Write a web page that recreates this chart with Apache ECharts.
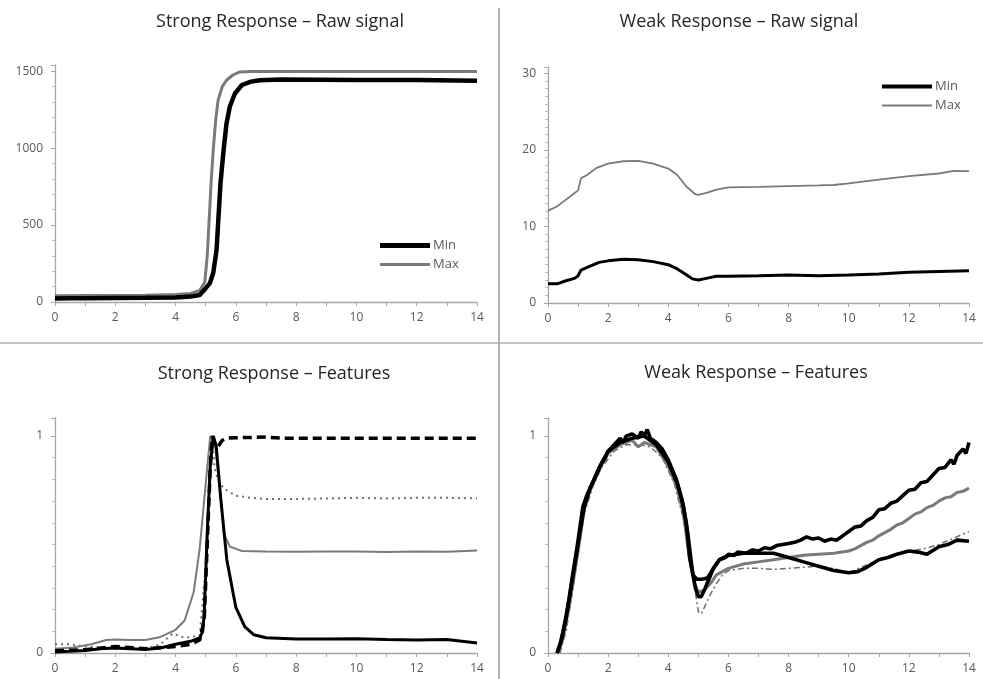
<!DOCTYPE html>
<html lang="en">
<head>
  <meta charset="UTF-8">
  <title>Strong / Weak Response</title>
</head>
<body style="margin:0; background-color:#ffffff;">
<div id="main" style="width:983px; height:679px;"></div>

<script src="https://cdn.jsdelivr.net/npm/echarts@6/dist/echarts.min.js"></script>

<script>
  // panel titles
  var titles = [
    'Strong Response – Raw signal',
    'Weak Response – Raw signal',
    'Strong Response – Features',
    'Weak Response – Features'
  ];
  var xTicks = [0, 2, 4, 6, 8, 10, 12, 14];

  // strong response, raw signal [time, value]
  var strongRawMin = [[0,22],[0.5,24],[1,25],[2,26],[3,27],[4,30],[4.5,35],[4.8,45],[5.0,90],[5.14,123],[5.25,190],
    [5.36,339],[5.49,771],[5.6,1000],[5.69,1160],[5.8,1270],[5.97,1355],[6.2,1410],[6.5,1432],[6.8,1441],
    [7.5,1445],[10,1443],[12,1442],[14,1438]];
  var strongRawMax = [[0,40],[1,42],[2,43],[3,44],[4,48],[4.5,55],[4.8,75],[4.97,130],[5.05,300],[5.12,555],
    [5.18,780],[5.25,988],[5.33,1180],[5.41,1312],[5.55,1400],[5.69,1441],[5.9,1475],[6.13,1495],[6.5,1498],
    [10,1498],[14,1498]];

  // weak response, raw signal
  var weakRawMin = [[0,2.5],[0.3,2.5],[0.6,2.9],[0.9,3.25],[1.0,3.55],[1.1,4.3],[1.4,4.8],[1.7,5.3],[2.0,5.5],
    [2.5,5.7],[3.0,5.65],[3.5,5.4],[4.0,5.0],[4.3,4.45],[4.6,3.7],[4.8,3.15],[5.0,3.0],[5.3,3.25],[5.6,3.5],
    [6,3.5],[7,3.55],[8,3.65],[9,3.55],[10,3.65],[11,3.8],[12,4.0],[13,4.1],[14,4.2]];
  var weakRawMax = [[0,12.05],[0.3,12.6],[0.5,13.2],[0.8,14.1],[1.0,14.7],[1.1,16.3],[1.3,16.7],[1.6,17.6],
    [2.0,18.2],[2.5,18.5],[3.0,18.55],[3.5,18.2],[4.0,17.55],[4.3,16.7],[4.6,15.2],[4.9,14.2],[5.0,14.1],
    [5.3,14.4],[5.6,14.8],[6.0,15.1],[7,15.15],[8,15.26],[9,15.35],[9.5,15.4],[10,15.6],[11,16.1],[12,16.55],
    [13,16.9],[13.5,17.25],[14,17.2]];

  // strong response, features
  var strongFeatBlack = [[0,0.005],[0.5,0.008],[1,0.012],[1.5,0.02],[2,0.023],[2.5,0.02],[3,0.016],[3.5,0.023],
    [4,0.04],[4.5,0.054],[4.8,0.07],[4.9,0.1],[4.95,0.18],[5.05,0.55],[5.15,0.86],[5.25,1.0],[5.35,0.95],
    [5.5,0.71],[5.7,0.43],[6.0,0.21],[6.3,0.12],[6.6,0.084],[7,0.07],[8,0.065],[9,0.064],[10,0.066],[11,0.062],
    [12,0.06],[13,0.062],[14,0.046]];
  var strongFeatDashed = [[0,0.01],[1,0.015],[2,0.03],[3,0.02],[4,0.03],[4.5,0.04],[4.8,0.06],[4.95,0.15],
    [5.05,0.5],[5.15,0.85],[5.22,1.0],[5.3,0.97],[5.4,0.95],[5.55,0.98],[5.7,0.99],[6,0.992],[7,0.995],
    [7.5,0.99],[8,0.99],[10,0.99],[12,0.99],[14,0.99]];
  var strongFeatGray = [[0,0.02],[0.6,0.025],[1.2,0.04],[1.7,0.06],[2,0.062],[2.5,0.06],[3,0.06],[3.5,0.074],
    [4.0,0.107],[4.3,0.15],[4.6,0.28],[4.8,0.48],[5.0,0.78],[5.15,1.0],[5.3,0.97],[5.45,0.78],[5.6,0.55],
    [5.8,0.49],[6.2,0.47],[7,0.468],[8,0.467],[9,0.468],[10,0.468],[11,0.466],[12,0.468],[13,0.467],[14,0.472]];
  var strongFeatDotted = [[0,0.04],[0.5,0.04],[1,0.03],[1.5,0.025],[2,0.02],[2.5,0.018],[3,0.02],[3.5,0.04],
    [3.9,0.09],[4.3,0.07],[4.8,0.08],[5.0,0.4],[5.1,0.75],[5.2,1.0],[5.3,0.85],[5.45,0.78],[5.7,0.75],
    [6.0,0.725],[6.5,0.715],[7,0.71],[8,0.71],[9,0.712],[10,0.715],[11,0.712],[12,0.715],[13,0.715],[14,0.713]];

  // weak response, features (noisy traces, read at short steps)
  var weakFeatA = [[0.3,0],[0.4,0.04],[0.5,0.1],[0.6,0.17],[0.7,0.25],[0.83,0.37],[0.9,0.43],[1.0,0.52],
    [1.16,0.675],[1.3,0.73],[1.5,0.79],[1.72,0.86],[1.9,0.9],[2.0,0.93],[2.2,0.96],[2.4,0.99],[2.5,0.97],
    [2.6,1.0],[2.8,1.01],[3.0,0.99],[3.1,1.02],[3.2,1.0],[3.3,1.03],[3.4,0.99],[3.6,0.97],[3.8,0.94],
    [4.0,0.89],[4.27,0.8],[4.45,0.71],[4.6,0.6],[4.71,0.44],[4.82,0.36],[4.95,0.34],[5.1,0.34],[5.3,0.345],
    [5.5,0.39],[5.7,0.43],[5.9,0.44],[6.0,0.455],[6.2,0.45],[6.3,0.465],[6.6,0.46],[6.8,0.475],[7.0,0.47],
    [7.2,0.485],[7.4,0.48],[7.6,0.495],[7.8,0.5],[8.0,0.505],[8.2,0.51],[8.4,0.52],[8.6,0.535],[8.8,0.525],
    [9.0,0.53],[9.2,0.515],[9.4,0.525],[9.6,0.52],[9.7,0.53],[9.9,0.55],[10.0,0.56],[10.2,0.58],[10.4,0.585],
    [10.6,0.61],[10.8,0.625],[11.0,0.66],[11.2,0.665],[11.4,0.69],[11.6,0.7],[11.8,0.725],[12.0,0.75],
    [12.2,0.755],[12.4,0.785],[12.6,0.79],[12.8,0.82],[13.0,0.85],[13.2,0.855],[13.4,0.89],[13.5,0.87],
    [13.6,0.91],[13.8,0.94],[13.9,0.92],[14.0,0.97]];
  var weakFeatB = [[0.35,0],[0.5,0.07],[0.7,0.21],[0.9,0.38],[1.0,0.47],[1.2,0.66],[1.4,0.75],[1.6,0.81],
    [1.8,0.87],[2.0,0.92],[2.4,0.96],[2.8,0.98],[3.0,0.95],[3.2,0.97],[3.6,0.95],[4.0,0.86],[4.3,0.76],
    [4.5,0.64],[4.7,0.44],[4.85,0.33],[5.0,0.28],[5.2,0.29],[5.4,0.32],[5.6,0.36],[6.0,0.39],[6.5,0.41],
    [7,0.42],[7.5,0.43],[8,0.44],[8.5,0.45],[9,0.455],[9.5,0.46],[10,0.47],[10.2,0.48],[10.4,0.495],
    [10.6,0.51],[10.8,0.52],[11,0.54],[11.2,0.555],[11.4,0.57],[11.6,0.59],[11.8,0.6],[12,0.62],[12.2,0.64],
    [12.4,0.65],[12.6,0.67],[12.8,0.68],[13,0.7],[13.2,0.715],[13.4,0.72],[13.6,0.74],[13.8,0.745],[14,0.76]];
  var weakFeatC = [[0.3,0],[0.45,0.06],[0.6,0.16],[0.8,0.33],[1.0,0.5],[1.2,0.67],[1.4,0.76],[1.6,0.82],
    [1.8,0.88],[2.0,0.93],[2.4,0.97],[2.8,0.99],[3.2,1.0],[3.6,0.96],[4.0,0.88],[4.3,0.78],[4.5,0.68],
    [4.65,0.55],[4.8,0.38],[4.9,0.3],[5.0,0.26],[5.1,0.26],[5.2,0.29],[5.35,0.34],[5.5,0.39],[5.7,0.43],
    [6.0,0.45],[6.5,0.46],[7.0,0.46],[7.5,0.46],[8.0,0.44],[8.5,0.42],[9.0,0.4],[9.5,0.38],[10,0.37],
    [10.3,0.375],[10.6,0.395],[11,0.43],[11.3,0.44],[11.6,0.455],[12,0.47],[12.3,0.465],[12.6,0.455],
    [13,0.49],[13.3,0.5],[13.6,0.52],[14,0.515]];
  var weakFeatD = [[0.4,0],[0.6,0.1],[0.8,0.27],[1.0,0.45],[1.2,0.64],[1.5,0.77],[1.8,0.86],[2.2,0.93],
    [2.6,0.96],[3.0,0.96],[3.4,0.95],[3.8,0.9],[4.2,0.78],[4.5,0.62],[4.7,0.47],[4.8,0.38],[4.9,0.28],
    [5.0,0.19],[5.1,0.18],[5.2,0.21],[5.4,0.27],[5.6,0.32],[5.8,0.36],[6.0,0.38],[6.5,0.39],[7,0.39],
    [7.5,0.385],[8,0.39],[8.5,0.395],[9,0.4],[9.5,0.39],[10,0.37],[10.5,0.4],[11,0.43],[11.5,0.45],
    [12,0.47],[12.5,0.48],[13,0.5],[13.5,0.53],[14,0.56]];

  var chartDom = document.getElementById('main');
  var myChart = echarts.init(chartDom, null, { renderer: 'canvas' });

  var FONT = '"Open Sans", "Noto Sans", sans-serif';
  var AXIS_GRAY = '#a6a6a6';
  var LABEL_COLOR = '#595959';

  function xAxis(gridIndex) {
    return {
      type: 'value', gridIndex: gridIndex, min: 0, max: 14, interval: 2,
      axisLine: { lineStyle: { color: AXIS_GRAY, width: 1.3 } },
      axisTick: { length: 4, lineStyle: { color: AXIS_GRAY } },
      minorTick: { show: true, splitNumber: 2, length: 4, lineStyle: { color: AXIS_GRAY } },
      splitLine: { show: false },
      axisLabel: {
        color: LABEL_COLOR, fontFamily: FONT, fontSize: 12, margin: 10,
        formatter: function (v) { return xTicks.indexOf(v) >= 0 ? String(v) : ''; }
      }
    };
  }

  function yAxis(gridIndex, max, interval, minor, labels) {
    return {
      type: 'value', gridIndex: gridIndex, min: 0, max: max, interval: interval,
      axisLine: { show: true, lineStyle: { color: AXIS_GRAY, width: 1.3 } },
      axisTick: { show: true, length: 4, lineStyle: { color: AXIS_GRAY } },
      minorTick: { show: true, splitNumber: minor, length: 3, lineStyle: { color: '#bdbdbd' } },
      splitLine: { show: false },
      axisLabel: {
        color: LABEL_COLOR, fontFamily: FONT, fontSize: 12, margin: 12, showMaxLabel: false,
        formatter: function (v) { return labels.indexOf(v) >= 0 ? String(v) : ''; }
      }
    };
  }

  function line(name, data, xi, color, width, type) {
    return {
      name: name, type: 'line', xAxisIndex: xi, yAxisIndex: xi,
      data: data, symbol: 'none', smooth: false, silent: true,
      lineStyle: { color: color, width: width, type: type || 'solid' },
      itemStyle: { color: color }
    };
  }

  // one legend per entry so each key can carry its own stroke thickness
  function legendItem(name, label, left, top, thick) {
    return {
      data: [{ name: name, icon: 'rect' }], left: left, top: top, orient: 'vertical',
      itemWidth: 50, itemHeight: thick, selectedMode: false, padding: 0, itemGap: 0,
      textStyle: { color: LABEL_COLOR, fontFamily: FONT, fontSize: 13, padding: [0, 0, 0, -2] },
      formatter: function () { return label; }
    };
  }

  var grids = [
    { left: 55, right: 506, top: 65, height: 237 },
    { left: 548, right: 14, top: 67, height: 236 },
    { left: 55, right: 506, top: 418, height: 235 },
    { left: 548, right: 14, top: 418, height: 235 }
  ];
  grids.forEach(function (g) { g.containLabel = false; g.outerBoundsMode = 'none'; });

  var option = {
    backgroundColor: '#ffffff',
    animation: false,
    grid: grids,
    xAxis: [xAxis(0), xAxis(1), xAxis(2), xAxis(3)],
    yAxis: [
      yAxis(0, 1540, 500, 5, [0, 500, 1000, 1500]),
      yAxis(1, 30.8, 10, 10, [0, 10, 20, 30]),
      yAxis(2, 1.083, 1, 10, [0, 1]),
      yAxis(3, 1.083, 1, 10, [0, 1])
    ],
    legend: [
      legendItem('strongMin', 'Min', 380, 239, 5),
      legendItem('strongMax', 'Max', 380, 258, 3),
      legendItem('weakMin', 'Min', 882, 80, 4),
      legendItem('weakMax', 'Max', 882, 99, 2)
    ],
    graphic: [
      { type: 'line', shape: { x1: 499, y1: 8, x2: 499, y2: 679 }, style: { stroke: '#9a9a9a', lineWidth: 1.5 } },
      { type: 'line', shape: { x1: 0, y1: 343, x2: 983, y2: 343 }, style: { stroke: '#b0b0b0', lineWidth: 1.5 } },
      { type: 'text', x: 280, y: 22, style: { text: titles[0], font: '18px ' + FONT, fill: '#262626', align: 'center', verticalAlign: 'middle' } },
      { type: 'text', x: 739, y: 22, style: { text: titles[1], font: '18px ' + FONT, fill: '#262626', align: 'center', verticalAlign: 'middle' } },
      { type: 'text', x: 274, y: 374, style: { text: titles[2], font: '18px ' + FONT, fill: '#262626', align: 'center', verticalAlign: 'middle' } },
      { type: 'text', x: 756, y: 373, style: { text: titles[3], font: '18px ' + FONT, fill: '#262626', align: 'center', verticalAlign: 'middle' } }
    ],
    series: [
      line('strongMax', strongRawMax, 0, '#7a7a7a', 3),
      line('strongMin', strongRawMin, 0, '#000000', 4.5),
      line('weakMax', weakRawMax, 1, '#7a7a7a', 1.8),
      line('weakMin', weakRawMin, 1, '#000000', 3),
      line('sfDotted', strongFeatDotted, 2, '#6e6e6e', 2, [2, 4]),
      line('sfGray', strongFeatGray, 2, '#7a7a7a', 2),
      line('sfDashed', strongFeatDashed, 2, '#000000', 3.5, [9, 5]),
      line('sfBlack', strongFeatBlack, 2, '#000000', 3),
      line('wfD', weakFeatD, 3, '#6e6e6e', 1.5, [6, 3, 2, 3]),
      line('wfB', weakFeatB, 3, '#7a7a7a', 3),
      line('wfC', weakFeatC, 3, '#000000', 3.6),
      line('wfA', weakFeatA, 3, '#000000', 3.6)
    ]
  };

  myChart.setOption(option);
</script>
</body>
</html>
